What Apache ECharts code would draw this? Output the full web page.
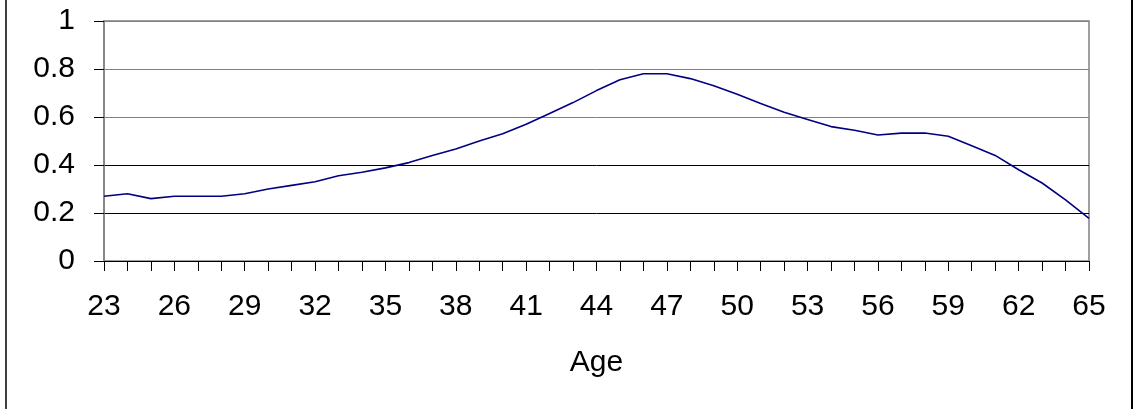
<!DOCTYPE html>
<html>
<head>
<meta charset="utf-8">
<script src="https://cdn.jsdelivr.net/npm/echarts@6/dist/echarts.min.js"></script>
<style>html,body{margin:0;padding:0;background:#fff}#c{width:1133px;height:409px}</style>
</head>
<body>
<div id="c"></div>
<script>
var ages = [];
for (var a = 23; a <= 65; a++) ages.push(String(a));
var values = [0.27,0.28,0.26,0.27,0.27,0.27,0.28,0.30,0.315,0.33,0.355,0.37,0.388,
  0.41,0.44,0.467,0.50,0.53,0.57,0.615,0.66,0.71,0.755,0.78,0.78,0.76,0.73,0.695,0.656,
  0.62,0.59,0.56,0.545,0.525,0.533,0.533,0.52,0.48,0.44,0.38,0.325,0.255,0.178];
var yTicks = [0,0.2,0.4,0.6,0.8,1];
var xName = 'Age';

var chart = echarts.init(document.getElementById('c'), null, {renderer:'canvas'});
chart.setOption({
  animation:false,
  backgroundColor:'#fff',
  grid:{left:104,right:44,top:21,bottom:148,containLabel:false,show:true,borderColor:'#808080',borderWidth:1.5},
  xAxis:{
    type:'category', data:ages, boundaryGap:false,
    name:xName, nameLocation:'middle', nameGap:87,
    nameTextStyle:{fontFamily:'Liberation Sans',fontSize:30,color:'#000'},
    axisLine:{lineStyle:{color:'#000',width:1}},
    axisTick:{show:true,interval:0,length:10,lineStyle:{color:'#000'}},
    axisLabel:{interval:2,fontFamily:'Liberation Sans',fontSize:30,color:'#000',margin:31},
    splitLine:{show:false}
  },
  yAxis:{
    type:'value', min:0, max:1, interval:0.2,
    axisLine:{show:true,lineStyle:{color:'#808080',width:1.5}},
    axisTick:{show:true,length:10,lineStyle:{color:'#000'}},
    axisLabel:{fontFamily:'Liberation Sans',fontSize:30,color:'#000',margin:29,
      formatter:function(v){ for (var i=0;i<yTicks.length;i++){ if (Math.abs(yTicks[i]-v)<1e-9) return String(yTicks[i]); } return ''; }},
    splitLine:{show:true,lineStyle:{color:['#000','#000','#000','#808080','#808080','#808080'],width:1}}
  },
  series:[{
    type:'line', data:values, showSymbol:false, symbol:'none', smooth:false,
    lineStyle:{color:'#000080',width:1.6}
  }],
  graphic:[
    {type:'line',shape:{x1:6,y1:0,x2:6,y2:409},style:{stroke:'#404040',lineWidth:2}},
    {type:'line',shape:{x1:1132,y1:0,x2:1132,y2:409},style:{stroke:'#000',lineWidth:2}}
  ]
});
</script>
</body>
</html>
